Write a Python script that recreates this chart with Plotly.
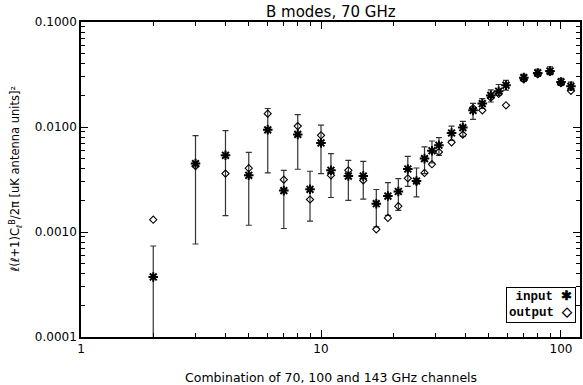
import plotly.graph_objects as go

# Multipole bins
ell = [2, 3, 4, 5, 6, 7, 8, 9, 10, 11, 13, 15, 17, 19, 21, 23, 25, 27, 29, 31,
       35, 39, 43, 47, 51, 55, 59, 70, 80, 90, 100, 110]

# Input B-mode spectrum (asterisks)
cl_input = [3.73e-4, 4.48e-3, 5.38e-3, 3.47e-3, 9.4e-3, 2.48e-3, 8.5e-3, 2.55e-3,
            7.05e-3, 3.87e-3, 3.41e-3, 3.41e-3, 1.86e-3, 2.20e-3, 2.43e-3, 3.98e-3,
            3.06e-3, 5.00e-3, 5.94e-3, 6.70e-3, 8.77e-3, 9.87e-3, 1.44e-2, 1.67e-2,
            2.00e-2, 2.19e-2, 2.50e-2, 2.95e-2, 3.27e-2, 3.41e-2, 2.68e-2, 2.44e-2]

# Recovered spectrum after component separation (diamonds)
cl_output = [1.31e-3, 4.25e-3, 3.60e-3, 4.05e-3, 1.34e-2, 3.15e-3, 1.02e-2, 2.04e-3,
             8.34e-3, 3.47e-3, 3.87e-3, 3.10e-3, 1.06e-3, 1.36e-3, 1.76e-3, 3.25e-3,
             3.04e-3, 3.65e-3, 4.42e-3, 5.78e-3, 7.15e-3, 8.47e-3, 1.51e-2, 1.44e-2,
             1.90e-2, 2.07e-2, 1.61e-2, 2.84e-2, 3.18e-2, 3.35e-2, 2.61e-2, 2.21e-2]

# Upper / lower ends of the error bars on the input spectrum
err_high = [7.36e-4, 8.28e-3, 9.24e-3, 5.74e-3, 1.50e-2, 3.87e-3, 1.31e-2, 3.79e-3,
            1.04e-2, 5.58e-3, 4.82e-3, 4.71e-3, 2.54e-3, 2.95e-3, 3.23e-3, 5.26e-3,
            4.07e-3, 6.46e-3, 7.36e-3, 7.93e-3, 1.02e-2, 1.13e-2, 1.68e-2, 1.86e-2,
            2.26e-2, 2.54e-2, 2.78e-2, 3.18e-2, 3.55e-2, 3.74e-2, 2.91e-2, 2.67e-2]
err_low = [1.0e-6, 7.69e-4, 1.43e-3, 1.16e-3, 3.65e-3, 1.08e-3, 3.96e-3, 1.27e-3,
           3.60e-3, 2.13e-3, 2.00e-3, 2.06e-3, 1.12e-3, 1.44e-3, 1.61e-3, 2.72e-3,
           2.16e-3, 3.60e-3, 4.54e-3, 5.37e-3, 7.46e-3, 8.15e-3, 1.18e-2, 1.50e-2,
           1.73e-2, 2.00e-2, 2.24e-2, 2.72e-2, 3.04e-2, 3.15e-2, 2.49e-2, 2.24e-2]

y_tickvals = [1e-4, 1e-3, 1e-2, 1e-1]
y_ticktext = ["0.0001", "0.0010", "0.0100", "0.1000"]
x_tickvals = [1, 10, 100]
x_ticktext = ["1", "10", "100"]

err_plus = [h - v for h, v in zip(err_high, cl_input)]
err_minus = [v - l for v, l in zip(cl_input, err_low)]

FONT = "DejaVu Sans"
fig = go.Figure()

fig.add_trace(go.Scatter(
    x=ell, y=cl_input, mode="markers", name="input",
    marker=dict(symbol="asterisk-open", size=8, color="black",
                line=dict(color="black", width=2)),
    error_y=dict(type="data", symmetric=False, array=err_plus,
                 arrayminus=err_minus, color="#333333", thickness=1.2, width=3),
))
fig.add_trace(go.Scatter(
    x=ell, y=cl_output, mode="markers", name="output",
    marker=dict(symbol="diamond-open", size=5.5, color="black",
                line=dict(color="black", width=1.1)),
))

minor_x = [v * d for d in (1, 10, 100) for v in range(2, 10) if v * d < 120]
minor_y = [v * d for d in (1e-4, 1e-3, 1e-2) for v in range(2, 10)]

axis_common = dict(
    showline=True, linecolor="black", linewidth=1.5, mirror="allticks",
    ticks="inside", ticklen=7, tickwidth=1, tickcolor="black",
    showgrid=False, zeroline=False,
    tickfont=dict(family=FONT, size=12, color="black"),
)

fig.update_xaxes(type="log", range=[0, 2.0792],
                 tickmode="array", tickvals=x_tickvals, ticktext=x_ticktext,
                 minor=dict(tickmode="array", tickvals=minor_x, ticks="inside",
                            ticklen=4, tickwidth=1, tickcolor="black", showgrid=False),
                 **axis_common)
fig.update_yaxes(type="log", range=[-4, -1],
                 tickmode="array", tickvals=y_tickvals, ticktext=y_ticktext,
                 minor=dict(tickmode="array", tickvals=minor_y, ticks="inside",
                            ticklen=4, tickwidth=1, tickcolor="black", showgrid=False),
                 **axis_common)

# Title and axis titles
fig.add_annotation(text="B modes, 70 GHz", xref="paper", yref="paper",
                   x=0.5, y=1, yshift=10, yanchor="middle", showarrow=False,
                   font=dict(family=FONT, size=15, color="black"))
fig.add_annotation(text="Combination of 70, 100 and 143 GHz channels",
                   xref="paper", yref="paper", x=0.5, y=0, yshift=-40,
                   yanchor="middle", showarrow=False,
                   font=dict(family=FONT, size=12.5, color="black"))
fig.add_annotation(text="ℓ(ℓ+1)C<sub>ℓ</sub><sup>B</sup>/2π [uK antenna units]²",
                   xref="paper", yref="paper", x=0, xshift=-66, y=0.5,
                   xanchor="center", yanchor="middle", textangle=-90,
                   showarrow=False,
                   font=dict(family=FONT, size=11.5, color="black"))

# Legend box with symbols on the right of the labels
fig.add_annotation(text="input ✱<br>output ◇", xref="paper", yref="paper",
                   x=0.992, y=0.044, xanchor="right", yanchor="bottom",
                   align="right", showarrow=False,
                   bordercolor="black", borderwidth=1, borderpad=2,
                   bgcolor="white",
                   font=dict(family="Liberation Mono", size=12.5, color="black",
                             weight="bold"))

fig.update_layout(
    width=583, height=385,
    margin=dict(l=81, r=1, t=22, b=48),
    paper_bgcolor="white", plot_bgcolor="white",
    showlegend=False,
    font=dict(family=FONT, color="black"),
)

fig.write_html("out.html")
